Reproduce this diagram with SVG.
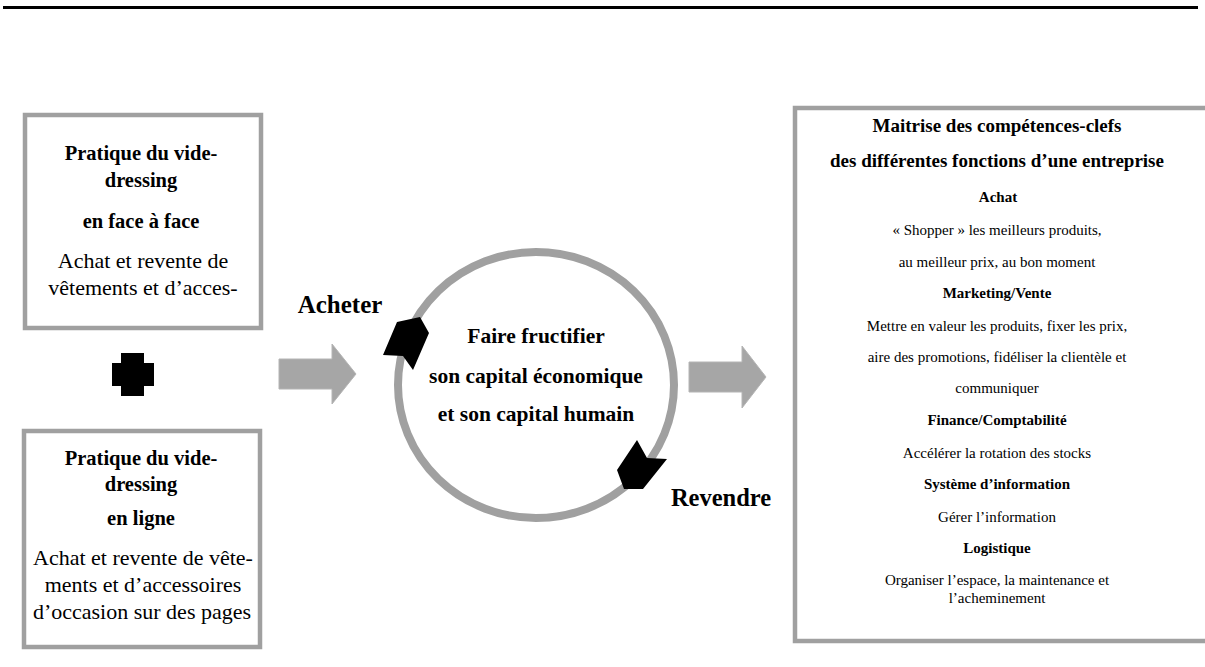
<svg xmlns="http://www.w3.org/2000/svg" width="1205" height="667" viewBox="0 0 1205 667">
<style>
.box{fill:#fff;stroke:#a0a0a0;stroke-width:4.5}
.t{font-family:"Liberation Serif","Times New Roman",serif;fill:#000;text-anchor:middle}
.b{font-weight:bold}
.garrow{fill:#a6a6a6;stroke:#b4b4b4;stroke-width:1}
.head{fill:#000}
</style>
<rect width="1205" height="667" fill="#fff"/>
<line x1="3" y1="7.5" x2="1198" y2="7.5" stroke="#000" stroke-width="3"/>

<g id="box-face">
<rect class="box" x="25" y="115" width="236" height="213"/>
<text class="t b" x="141" y="160" font-size="20.5">Pratique du vide-</text>
<text class="t b" x="141" y="187" font-size="20.5">dressing</text>
<text class="t b" x="141" y="228" font-size="20.5">en face à face</text>
<text class="t" x="143" y="268" font-size="22">Achat et revente de</text>
<text class="t" x="143" y="295" font-size="22">vêtements et d’acces-</text>
</g>

<g id="plus">
<path d="M121 353H144V363H154V386H144V396H121V386H112V363H121Z" fill="#000"/>
</g>

<g id="box-ligne">
<rect class="box" x="24" y="431" width="236" height="216"/>
<text class="t b" x="141" y="465" font-size="20.5">Pratique du vide-</text>
<text class="t b" x="141" y="491" font-size="20.5">dressing</text>
<text class="t b" x="141" y="525" font-size="20.5">en ligne</text>
<text class="t" x="143" y="565" font-size="22">Achat et revente de vête-</text>
<text class="t" x="143" y="592" font-size="22">ments et d’accessoires</text>
<text class="t" x="142" y="619" font-size="22">d’occasion sur des pages</text>
</g>

<g id="cycle">
<ellipse cx="536" cy="385" rx="138" ry="133" fill="none" stroke="#a0a0a0" stroke-width="8"/>
<polygon class="head" points="383,355 397,322 420,317 429,333 413,370 403,356"/>
<polygon class="head" points="637,440 647,458 667,459 643,489 624,489 617,470"/>
<text class="t b" x="536" y="343" font-size="21.5">Faire fructifier</text>
<text class="t b" x="536" y="383" font-size="21.5">son capital économique</text>
<text class="t b" x="536" y="421" font-size="21.5">et son capital humain</text>
</g>

<g id="label-acheter">
<text class="t b" x="340" y="313" font-size="25">Acheter</text>
</g>
<g id="label-revendre">
<text class="t b" x="721" y="506" font-size="24.5">Revendre</text>
</g>

<g id="connectors">
<polygon class="garrow" points="279,359 332,359 332,344 356,374 332,404 332,389 279,389"/>
<polygon class="garrow" points="689,362 742,362 742,346 766,377 742,408 742,392 689,392"/>
</g>

<g id="box-competences">
<rect class="box" x="795" y="108" width="420" height="533" stroke-width="5"/>
<text class="t b" x="997" y="132" font-size="19">Maitrise des compétences-clefs</text>
<text class="t b" x="997" y="167" font-size="19">des différentes fonctions d’une entreprise</text>
<text class="t b" x="998" y="202" font-size="15">Achat</text>
<text class="t" x="997" y="235" font-size="15">« Shopper » les meilleurs produits,</text>
<text class="t" x="997" y="267" font-size="15">au meilleur prix, au bon moment</text>
<text class="t b" x="997" y="298" font-size="15">Marketing/Vente</text>
<text class="t" x="997" y="331" font-size="15">Mettre en valeur les produits, fixer les prix,</text>
<text class="t" x="997" y="362" font-size="15">aire des promotions, fidéliser la clientèle et</text>
<text class="t" x="997" y="393" font-size="15">communiquer</text>
<text class="t b" x="997" y="425" font-size="15">Finance/Comptabilité</text>
<text class="t" x="997" y="458" font-size="15">Accélérer la rotation des stocks</text>
<text class="t b" x="997" y="489" font-size="15">Système d’information</text>
<text class="t" x="997" y="522" font-size="15">Gérer l’information</text>
<text class="t b" x="997" y="553" font-size="15">Logistique</text>
<text class="t" x="997" y="585" font-size="15">Organiser l’espace, la maintenance et</text>
<text class="t" x="997" y="603" font-size="15">l’acheminement</text>
</g>
</svg>
